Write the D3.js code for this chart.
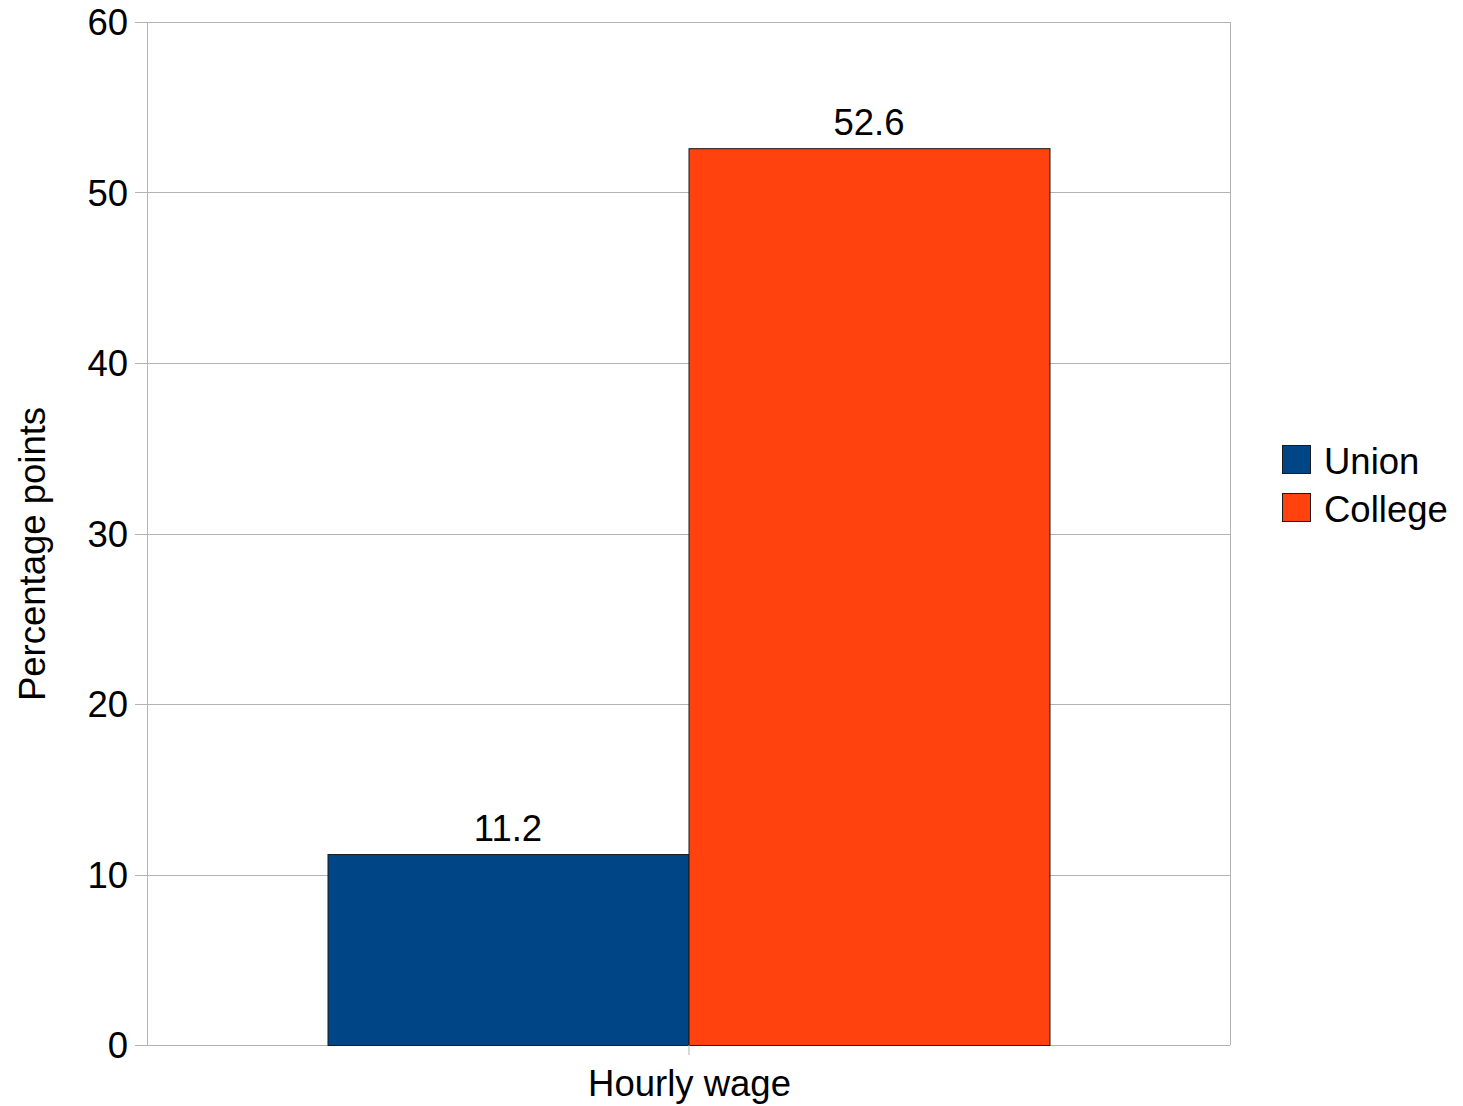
<!DOCTYPE html>
<meta charset="utf-8">
<script src="https://d3js.org/d3.v7.js"></script>
<style>
  body { margin: 0; background: #fff; }
  text { font-family: "Liberation Sans", Arial, sans-serif; fill: #000; }
</style>
<svg id="chart" width="1463" height="1106"></svg>
<script>
    // data
    var categories = ["Hourly wage"];
    var seriesNames = ["Union", "College"];
    var seriesValues = [11.2, 52.6];
    var seriesColors = ["#004586", "#ff420e"];
    var yTicks = [0, 10, 20, 30, 40, 50, 60];

    var svg = d3.select("#chart");
    // plot box (avoid "top", it's window.top)
    var plotL = 147, plotR = 1230, plotT = 22, plotB = 1045;
    var fs = 36.5;

    var y = d3.scaleLinear().domain([0, 60]).range([plotB, plotT]);
    var x = d3.scaleBand().domain(categories).range([plotL, plotR])
        .paddingInner(0).paddingOuter(0.25);
    var xs = d3.scaleBand().domain(seriesNames).range([0, x.bandwidth()]);

    // grid
    svg.append("g").selectAll("line").data(yTicks).enter().append("line")
        .attr("x1", plotL - 12).attr("x2", plotR)
        .attr("y1", d => Math.round(y(d)) + 0.5).attr("y2", d => Math.round(y(d)) + 0.5)
        .attr("stroke", "#b3b3b3").attr("stroke-width", 1);

    // frame
    svg.append("line").attr("x1", plotL + 0.5).attr("x2", plotL + 0.5)
        .attr("y1", plotT).attr("y2", plotB).attr("stroke", "#b3b3b3");
    svg.append("line").attr("x1", plotR + 0.5).attr("x2", plotR + 0.5)
        .attr("y1", plotT).attr("y2", plotB).attr("stroke", "#b3b3b3");

    // y axis labels
    svg.append("g").selectAll("text").data(yTicks).enter().append("text")
        .attr("x", 128).attr("y", d => y(d) + 13)
        .attr("text-anchor", "end").attr("font-size", fs)
        .text(d => d);

    // bars
    var g = svg.append("g").attr("transform", "translate(" + x(categories[0]) + ",0)");
    g.selectAll("rect").data(seriesValues).enter().append("rect")
        .attr("x", (d, i) => xs(seriesNames[i]) + 0.5)
        .attr("y", d => y(d) + 0.5)
        .attr("width", xs.bandwidth())
        .attr("height", d => plotB - y(d))
        .attr("fill", (d, i) => seriesColors[i])
        .attr("stroke", "#1a1a1a").attr("stroke-width", 1);

    g.selectAll("text").data(seriesValues).enter().append("text")
        .attr("x", (d, i) => xs(seriesNames[i]) + xs.bandwidth() / 2)
        .attr("y", d => y(d) - 13)
        .attr("text-anchor", "middle").attr("font-size", fs)
        .text(d => d.toFixed(1));

    // category tick and label
    var cx = x(categories[0]) + x.bandwidth() / 2;
    svg.append("line").attr("x1", cx + 0.5).attr("x2", cx + 0.5)
        .attr("y1", plotB).attr("y2", plotB + 10).attr("stroke", "#b3b3b3");
    svg.append("text").attr("x", cx + 1).attr("y", 1096)
        .attr("text-anchor", "middle").attr("font-size", fs)
        .text(categories[0]);

    // y title
    svg.append("text")
        .attr("transform", "translate(45,554) rotate(-90)")
        .attr("text-anchor", "middle").attr("font-size", fs)
        .text("Percentage points");

    // legend
    var leg = svg.append("g").selectAll("g").data(seriesNames).enter().append("g")
        .attr("transform", (d, i) => "translate(1282," + (445 + i * 48) + ")");
    leg.append("rect").attr("x", 0.5).attr("y", 0.5).attr("width", 28).attr("height", 28)
        .attr("fill", (d, i) => seriesColors[i]).attr("stroke", "#1a1a1a");
    leg.append("text").attr("x", 42).attr("y", 29)
        .attr("font-size", fs).text(d => d);
</script>
